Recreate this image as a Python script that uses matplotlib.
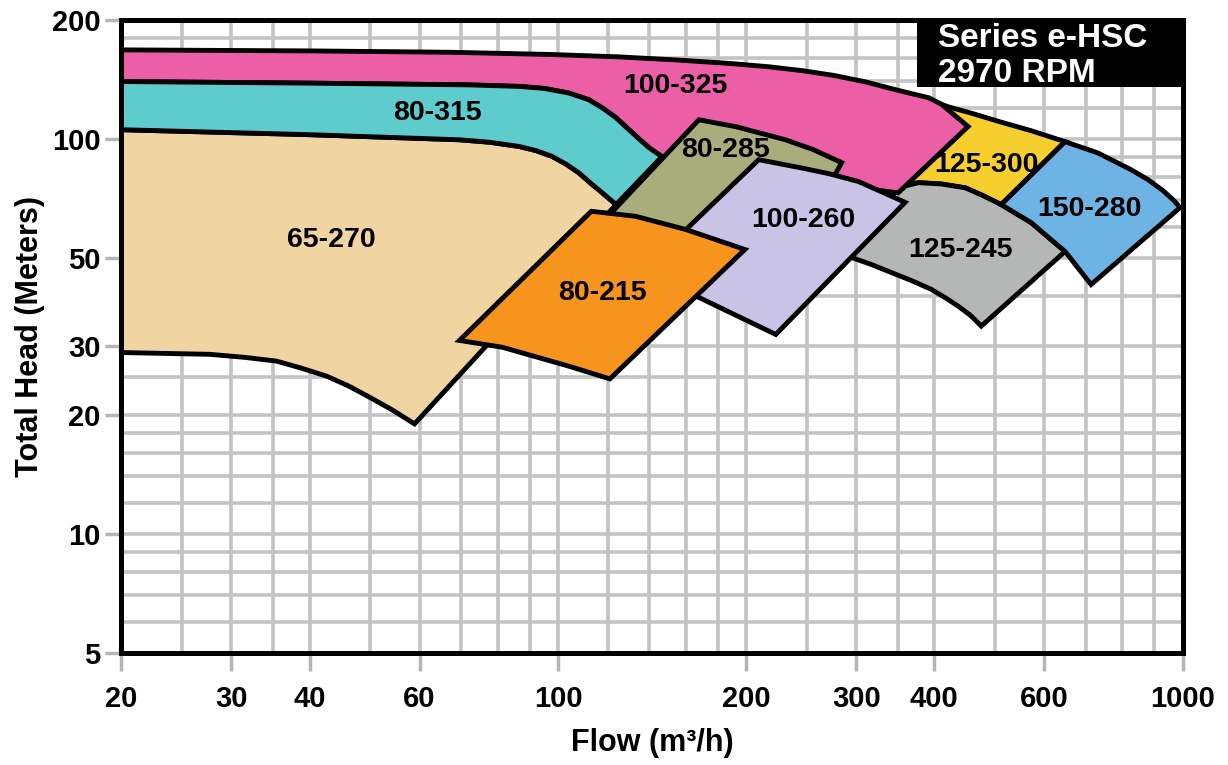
import matplotlib
matplotlib.use("Agg")
import matplotlib.pyplot as plt
from matplotlib.patches import Rectangle

# pump coverage areas, flow in m3/h and total head in m, traced around the outline
flow_100_325 = [20, 40, 66.9, 96.7, 125, 156, 187.5, 217, 247, 276, 310, 350, 392, 410.5, 453,
                350, 243, 181,
                146.6, 139.8, 135.2, 129.8, 123.8, 117.6, 112, 104.1, 95, 86.6, 72.1, 40, 20]
head_100_325 = [168, 167, 165.7, 163.6, 161.3, 158.3, 155.3, 152.3, 148.7, 144.8, 139.5, 132.7, 127.1, 122.4, 107.5,
                73, 79, 94,
                90.2, 95, 99.5, 105.5, 113.1, 119.9, 125.6, 130.6, 134.2, 135.8, 137, 138.4, 139.7]

flow_80_315 = [20, 40, 72.1, 86.6, 95, 104.1, 112, 117.6, 123.8, 129.8, 135.2, 139.8, 146.6,
               123.8, 117.6, 112.9, 108, 103, 97.8, 92.2, 86.6, 77.6, 69.5, 40, 20]
head_80_315 = [139.7, 138.4, 137, 135.8, 134.2, 130.6, 125.6, 119.9, 113.1, 105.5, 99.5, 95, 90.2,
               68.2, 73.1, 77.1, 82, 86.3, 90.3, 93.4, 95.7, 98.1, 99.5, 102.5, 105.5]

flow_65_270 = [20, 40, 69.5, 77.6, 86.6, 92.2, 97.8, 103, 108, 112.9, 117.6, 123.8,
               58.9, 54.3, 49.9, 46.2, 42.6, 38.8, 35.4, 31.5, 27.7, 20]
head_65_270 = [105.5, 102.5, 99.5, 98.1, 95.7, 93.4, 90.3, 86.3, 82, 77.1, 73.1, 68.2,
               19, 20.6, 22.2, 23.7, 25.1, 26.3, 27.4, 28, 28.5, 28.8]

flow_80_285 = [168, 192.4, 231.2, 256.3, 284.3, 278, 225, 140, 118]
head_80_285 = [111.8, 107.4, 99.5, 93.9, 87.1, 81.7, 68.2, 54, 61.8]

flow_80_215 = [113, 133, 160, 199, 121, 104, 81.4, 69.5]
head_80_215 = [65.6, 63.7, 59, 52.5, 24.7, 26.6, 29.7, 30.9]

flow_100_260 = [209.4, 245.4, 270.9, 302.5, 359.2, 223, 168, 137]
head_100_260 = [88.6, 84.4, 81.7, 78, 69.1, 32, 39.7, 46.5]

flow_125_300 = [398.7, 421, 461.8, 506.3, 571.6, 647.7, 511.8, 479.1, 448.4, 410.5, 377.3, 357]
head_125_300 = [124.4, 120.6, 115.8, 110.8, 104.9, 98.4, 68.2, 71.8, 75.2, 76.9, 77.5, 76.2]

flow_125_245 = [350.4, 377.3, 410.5, 448.4, 479.1, 511.8, 571.6, 615.3, 647.7,
                475.6, 456.7, 437.1, 418, 395.8, 367.8, 341.5, 317.3, 294.8, 325]
head_125_245 = [75.3, 77.5, 76.9, 75.2, 71.8, 68.2, 61.4, 55.6, 51.9,
                33.6, 35.8, 37.7, 39.5, 41.6, 43.8, 45.9, 48.1, 50.1, 64.4]

flow_150_280 = [647.7, 731.5, 825.7, 879, 929, 967.6, 989.3, 712.8, 647.7, 615.3, 571.6, 511.8]
head_150_280 = [98.4, 92.1, 83.6, 78.9, 74.0, 69.8, 67.0, 42.8, 51.9, 55.6, 61.4, 68.2]

label_names = ["100-325", "80-315", "65-270", "80-215", "80-285", "100-260", "125-300", "150-280", "125-245"]
label_flow = [154, 64, 43.3, 117.7, 185, 247, 485, 709, 441]
label_head = [136.4, 116.4, 55.6, 40.8, 93.9, 62.2, 85.7, 66.6, 52.3]

xtick_vals = [20, 30, 40, 60, 100, 200, 300, 400, 600, 1000]
ytick_vals = [5, 10, 20, 30, 50, 100, 200]
grid_flow = [25, 30, 35, 40, 50, 60, 70, 80, 90, 100, 120, 140, 160, 180, 200, 250, 300, 350, 400,
             500, 600, 700, 800, 900]
grid_head = [6, 7, 8, 9, 10, 12, 14, 16, 18, 20, 25, 30, 40, 50, 60, 70, 80, 90, 100, 120, 140, 160, 180]

plt.rcParams['font.family'] = ['Liberation Sans', 'DejaVu Sans']
plt.rcParams['font.weight'] = 'bold'

fig = plt.figure(figsize=(12.28, 7.65), dpi=100)
ax = fig.add_axes([0.0989, 0.1464, 0.8644, 0.8275])
ax.set_xscale('log')
ax.set_yscale('log')
ax.set_xlim(20, 1000)
ax.set_ylim(5, 200)

for v in grid_flow:
    ax.axvline(v, color='#c3c3c3', lw=2.6, zorder=1)
for v in grid_head:
    ax.axhline(v, color='#c3c3c3', lw=2.6, zorder=1)

# drawing order matters: later areas sit on top of earlier ones
areas = [
    (flow_125_300, head_125_300, '#f6cf2f'),
    (flow_125_245, head_125_245, '#b5b7b6'),
    (flow_100_325, head_100_325, '#ec5fa6'),
    (flow_150_280, head_150_280, '#6db4e4'),
    (flow_65_270, head_65_270, '#f0d5a3'),
    (flow_80_315, head_80_315, '#5ecbcc'),
    (flow_80_285, head_80_285, '#a9ad7c'),
    (flow_100_260, head_100_260, '#c9c4e6'),
    (flow_80_215, head_80_215, '#f7941e'),
]
for fx, hy, c in areas:
    ax.fill(fx, hy, facecolor=c, edgecolor='black', lw=3.5, joinstyle='miter', zorder=3)

for name, fx, hy in zip(label_names, label_flow, label_head):
    ax.text(fx, hy, name, ha='center', va='center', fontsize=20.5, fontweight='bold', zorder=6)

ax.add_patch(Rectangle((0.749, 0.8946), 0.251, 0.1054, transform=ax.transAxes,
                       facecolor='black', edgecolor='none', zorder=4))
ax.text(0.769, 0.958, 'Series e-HSC', transform=ax.transAxes, color='white',
        fontsize=24, fontweight='bold', va='baseline', zorder=7)
ax.text(0.769, 0.9026, '2970 RPM', transform=ax.transAxes, color='white',
        fontsize=24, fontweight='bold', va='baseline', zorder=7)

ax.set_xticks(xtick_vals)
ax.set_xticklabels([str(v) for v in xtick_vals])
ax.set_yticks(ytick_vals)
ax.set_yticklabels([str(v) for v in ytick_vals])
ax.minorticks_off()
ax.tick_params(axis='both', which='major', color='#b5b5b5', width=2.5, labelsize=21)
ax.tick_params(axis='x', length=13, pad=10)
ax.tick_params(axis='y', length=11.5, pad=3.5)

ax.set_xlabel('Flow (m³/h)', fontsize=22, fontweight='bold')
ax.set_ylabel('Total Head (Meters)', fontsize=22, fontweight='bold')
ax.xaxis.set_label_coords(0.5, -0.118)
ax.yaxis.set_label_coords(-0.072, 0.5)

for s in ax.spines.values():
    s.set_linewidth(3.6)
    s.set_zorder(5)

fig.savefig('out.png', dpi=100, facecolor='white')
